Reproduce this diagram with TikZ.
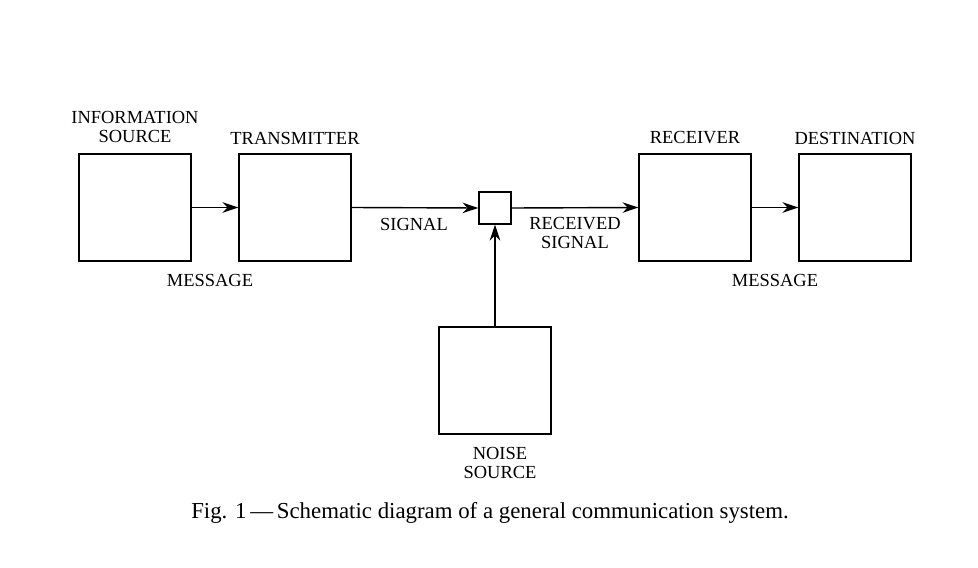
\documentclass[tikz,border=0pt]{standalone}
\usepackage{fontspec}
\setmainfont{Liberation Serif}
\usetikzlibrary{arrows.meta}
\begin{document}
\begin{tikzpicture}[x=0.02cm,y=-0.02cm,
  box/.style={draw,line width=0.8pt,minimum width=2.24cm,minimum height=2.14cm,inner sep=0pt},
  lbl/.style={font=\fontsize{10.5}{11}\selectfont,align=center,inner sep=0pt},
  arr/.style={line width=0.8pt,-{Stealth[length=9pt,width=6pt]}}]
\useasboundingbox (0,0) rectangle (978,568);
\node[box] (is) at (135,207.5) {};
\node[box] (tx) at (295,207.5) {};
\node[draw,line width=0.8pt,minimum size=0.64cm,inner sep=0pt] (nz) at (495,208) {};
\node[box] (rx) at (695,207.5) {};
\node[box] (ds) at (855,207.5) {};
\node[box] (ns) at (495,380.5) {};
\draw[arr] (is.east) -- (tx.west);
\draw[arr] (tx.east) -- (nz.west);
\draw[arr] (nz.east) -- (rx.west);
\draw[arr] (rx.east) -- (ds.west);
\draw[arr] (ns.north) -- (nz.south);
\node[lbl] (l1) at (135,127) {INFORMATION\\SOURCE};
\node[lbl] (l2) at (295,138) {TRANSMITTER};
\node[lbl] (l3) at (695,138) {RECEIVER};
\node[lbl] (l4) at (855,138) {DESTINATION};
\node[lbl] (l5) at (210,280) {MESSAGE};
\node[lbl] (l6) at (775,280) {MESSAGE};
\node[lbl] (l7) at (414,224) {SIGNAL};
\node[lbl] (l8) at (575,233) {RECEIVED\\SIGNAL};
\node[lbl] (l9) at (500,463) {NOISE\\SOURCE};
\node[font=\fontsize{13}{14}\selectfont,inner sep=0pt] (cap) at (490,513) {Fig. 1\,—\,Schematic diagram of a general communication system.};
\end{tikzpicture}
\end{document}
